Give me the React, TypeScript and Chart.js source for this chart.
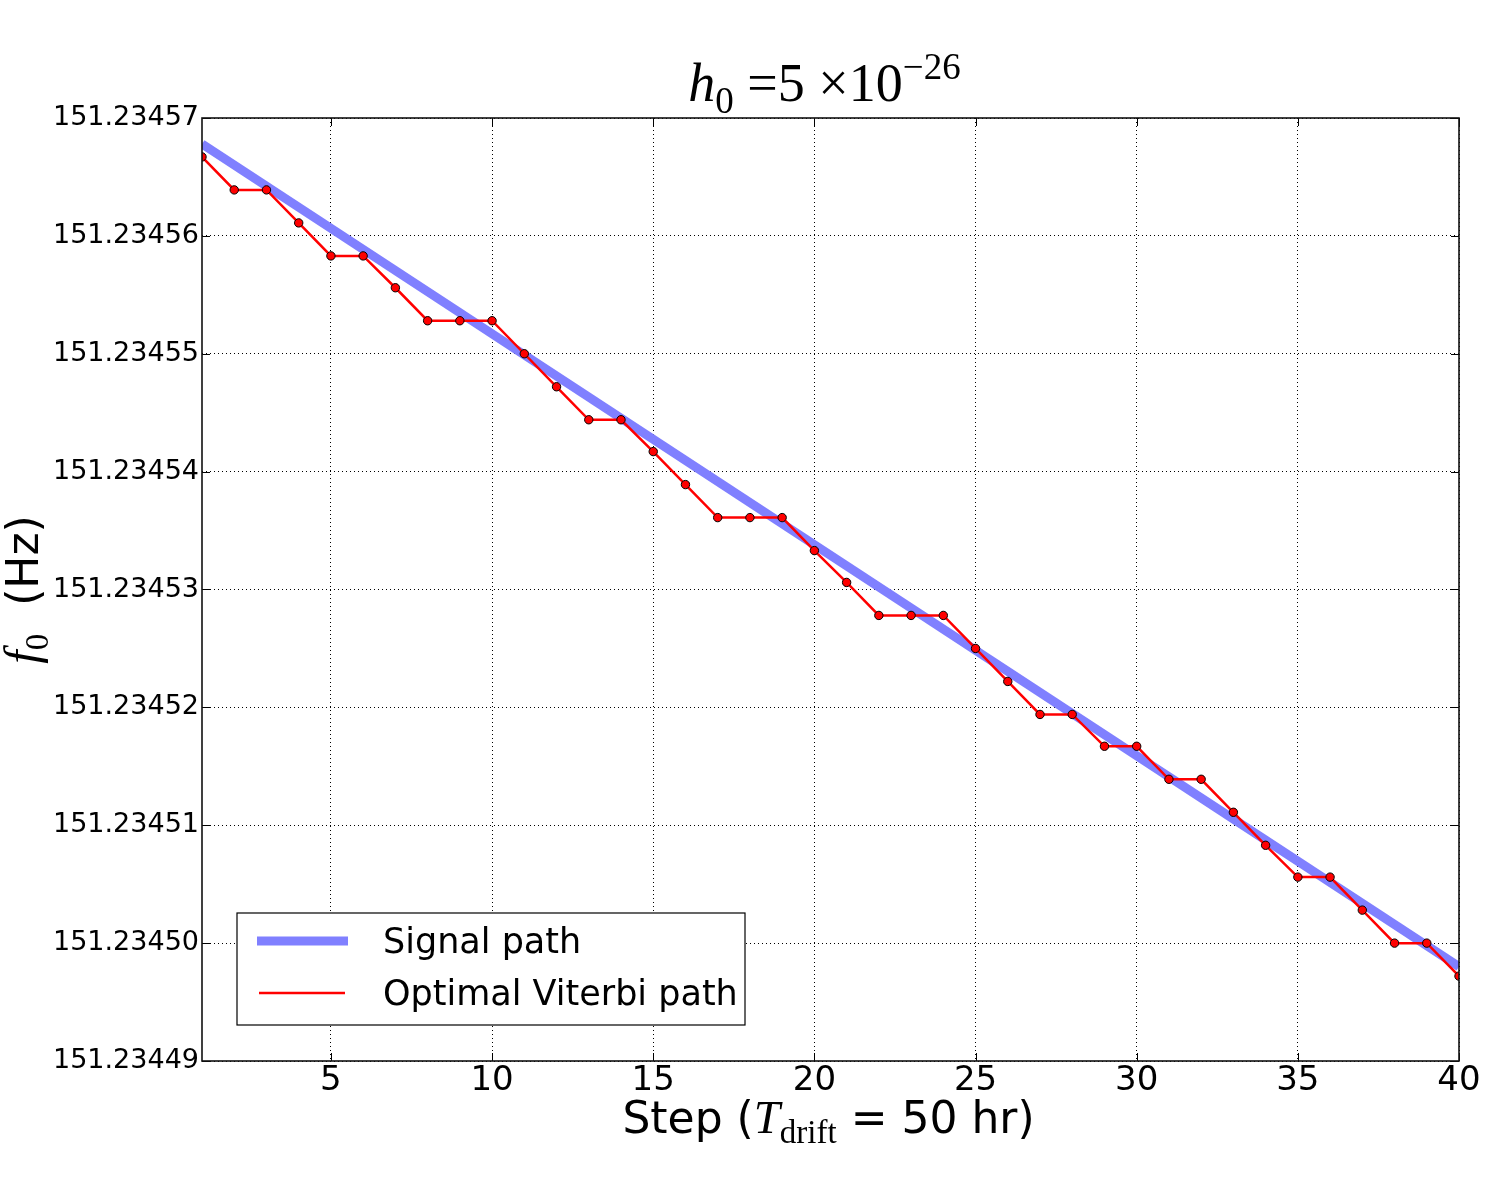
import React, { useEffect, useRef } from "react";
import { Chart, registerables } from "chart.js";

Chart.register(...registerables);

// steps of the Viterbi path
const steps = [
  1, 2, 3, 4, 5, 6, 7, 8, 9, 10, 11, 12, 13, 14, 15, 16, 17, 18, 19, 20,
  21, 22, 23, 24, 25, 26, 27, 28, 29, 30, 31, 32, 33, 34, 35, 36, 37, 38, 39, 40,
];

// optimal Viterbi path, f0 in Hz
const viterbiFreq = [
  151.2345667, 151.2345639, 151.2345639, 151.2345611, 151.2345583, 151.2345583,
  151.2345556, 151.2345528, 151.2345528, 151.2345528, 151.23455, 151.2345472,
  151.2345444, 151.2345444, 151.2345417, 151.2345389, 151.2345361, 151.2345361,
  151.2345361, 151.2345333, 151.2345306, 151.2345278, 151.2345278, 151.2345278,
  151.234525, 151.2345222, 151.2345194, 151.2345194, 151.2345167, 151.2345167,
  151.2345139, 151.2345139, 151.2345111, 151.2345083, 151.2345056, 151.2345056,
  151.2345028, 151.2345, 151.2345, 151.2344972,
];

// injected signal (straight line)
const signalSteps = [1, 40];
const signalFreq = [151.2345678, 151.234498];

const xTicks = [5, 10, 15, 20, 25, 30, 35, 40];
const yTicks = [
  151.23449, 151.2345, 151.23451, 151.23452, 151.23453, 151.23454, 151.23455,
  151.23456, 151.23457,
];

const seriesNames = ["Signal path", "Optimal Viterbi path"];

const SERIF = '"Liberation Serif", "DejaVu Serif", serif';
const SANS = '"DejaVu Sans", sans-serif';

type Piece = { t: string; font: string; dy?: number };

// draw a row of text pieces centred on cx
const drawPieces = (ctx: CanvasRenderingContext2D, pieces: Piece[], cx: number, base: number) => {
  ctx.textAlign = "left";
  ctx.textBaseline = "alphabetic";
  const widths = pieces.map((p) => {
    ctx.font = p.font;
    return ctx.measureText(p.t).width;
  });
  let x = cx - widths.reduce((a, b) => a + b, 0) / 2;
  pieces.forEach((p, i) => {
    ctx.font = p.font;
    ctx.fillText(p.t, x, base + (p.dy || 0));
    x += widths[i];
  });
};

const framePlugin = {
  id: "frame",
  afterDatasetsDraw(chart: any) {
    const { ctx, chartArea, scales } = chart;
    const { left, right, top, bottom } = chartArea;
    ctx.save();
    ctx.strokeStyle = "#000";
    ctx.lineWidth = 1;
    const tl = 8;
    ctx.beginPath();
    xTicks.forEach((v) => {
      const px = Math.round(scales.x.getPixelForValue(v)) + 0.5;
      ctx.moveTo(px, bottom);
      ctx.lineTo(px, bottom - tl);
      ctx.moveTo(px, top);
      ctx.lineTo(px, top + tl);
    });
    yTicks.forEach((v) => {
      const py = Math.round(scales.y.getPixelForValue(v)) + 0.5;
      ctx.moveTo(left, py);
      ctx.lineTo(left + tl, py);
      ctx.moveTo(right, py);
      ctx.lineTo(right - tl, py);
    });
    ctx.stroke();

    ctx.lineWidth = 1.6;
    ctx.strokeStyle = "#111";
    ctx.strokeRect(left, top, right - left, bottom - top);

    // legend in the lower left of the axes
    const lx = left + 35;
    const ly = bottom - 148;
    const lw = 508;
    const lh = 112;
    ctx.fillStyle = "#fff";
    ctx.fillRect(lx, ly, lw, lh);
    ctx.lineWidth = 1.2;
    ctx.strokeStyle = "#000";
    ctx.strokeRect(lx, ly, lw, lh);

    ctx.lineCap = "butt";
    ctx.strokeStyle = "#8080ff";
    ctx.lineWidth = 9;
    ctx.beginPath();
    ctx.moveTo(lx + 20, ly + 28);
    ctx.lineTo(lx + 111, ly + 28);
    ctx.stroke();
    ctx.strokeStyle = "#ff0000";
    ctx.lineWidth = 2.5;
    ctx.beginPath();
    ctx.moveTo(lx + 22, ly + 80);
    ctx.lineTo(lx + 108, ly + 80);
    ctx.stroke();

    ctx.fillStyle = "#000";
    ctx.font = `35px ${SANS}`;
    ctx.textAlign = "left";
    ctx.textBaseline = "middle";
    ctx.fillText(seriesNames[0], lx + 146, ly + 31);
    ctx.fillText(seriesNames[1], lx + 146, ly + 83);
    ctx.restore();
  },
  afterDraw(chart: any) {
    const { ctx, chartArea } = chart;
    const cx = (chartArea.left + chartArea.right) / 2;
    ctx.save();
    ctx.fillStyle = "#000";

    // title
    drawPieces(
      ctx,
      [
        { t: "h", font: `italic 54px ${SERIF}` },
        { t: "0", font: `37px ${SERIF}`, dy: 12 },
        { t: " =5 \u00d710", font: `54px ${SERIF}` },
        { t: "\u221226", font: `37px ${SERIF}`, dy: -22 },
      ],
      cx - 6,
      101
    );

    // x axis label
    drawPieces(
      ctx,
      [
        { t: "Step (", font: `44px ${SANS}` },
        { t: "T", font: `italic 47px ${SERIF}` },
        { t: "drift", font: `33px ${SERIF}`, dy: 10 },
        { t: " = 50 hr)", font: `44px ${SANS}` },
      ],
      cx - 2,
      1133
    );

    // y axis label
    ctx.translate(38, (chartArea.top + chartArea.bottom) / 2);
    ctx.rotate(-Math.PI / 2);
    drawPieces(
      ctx,
      [
        { t: "f", font: `italic 48px ${SERIF}` },
        { t: "0", font: `33px ${SERIF}`, dy: 10 },
        { t: "  (Hz)", font: `44px ${SANS}` },
      ],
      0,
      0
    );
    ctx.restore();
  },
};

const App: React.FC = () => {
  const canvasRef = useRef<HTMLCanvasElement | null>(null);

  useEffect(() => {
    document.body.style.margin = "0";
    if (!canvasRef.current) return;
    const chart = new Chart(canvasRef.current, {
      type: "line",
      data: {
        datasets: [
          {
            label: seriesNames[0],
            data: signalSteps.map((s, i) => ({ x: s, y: signalFreq[i] })),
            borderColor: "#8080ff",
            borderWidth: 9,
            pointRadius: 0,
            clip: 0,
            order: 2,
          },
          {
            label: seriesNames[1],
            data: steps.map((s, i) => ({ x: s, y: viterbiFreq[i] })),
            borderColor: "#ff0000",
            borderWidth: 2.5,
            pointRadius: 4.2,
            pointBackgroundColor: "#ff0000",
            pointBorderColor: "#000",
            pointBorderWidth: 1,
            tension: 0,
            clip: 0,
            order: 1,
          },
        ],
      },
      options: {
        responsive: false,
        animation: false,
        events: [],
        layout: { padding: { top: 118, right: 40, left: 0, bottom: 0 } },
        plugins: {
          legend: { display: false },
          title: { display: false },
          tooltip: { enabled: false },
        },
        scales: {
          x: {
            type: "linear",
            min: 1,
            max: 40,
            afterBuildTicks: (scale: any) => {
              scale.ticks = xTicks.map((v) => ({ value: v }));
            },
            afterFit: (scale: any) => {
              scale.height = 118;
            },
            grid: { color: "#000", lineWidth: 1, drawTicks: false },
            border: { display: false, dash: [1, 3] },
            ticks: {
              font: { family: SANS, size: 34 },
              color: "#000",
              padding: 0,
              maxRotation: 0,
              autoSkip: false,
            },
          },
          y: {
            type: "linear",
            min: 151.23449,
            max: 151.23457,
            afterBuildTicks: (scale: any) => {
              scale.ticks = yTicks.map((v) => ({ value: v }));
            },
            afterFit: (scale: any) => {
              scale.width = 202;
            },
            grid: { color: "#000", lineWidth: 1, drawTicks: false },
            border: { display: false, dash: [1, 3] },
            ticks: {
              font: { family: SANS, size: 27 },
              color: "#000",
              padding: 3,
              autoSkip: false,
              callback: (v: any) => Number(v).toFixed(5),
            },
          },
        },
      },
      plugins: [framePlugin],
    });
    return () => chart.destroy();
  }, []);

  return <canvas ref={canvasRef} width={1499} height={1179} style={{ display: "block" }} />;
};

export default App;
